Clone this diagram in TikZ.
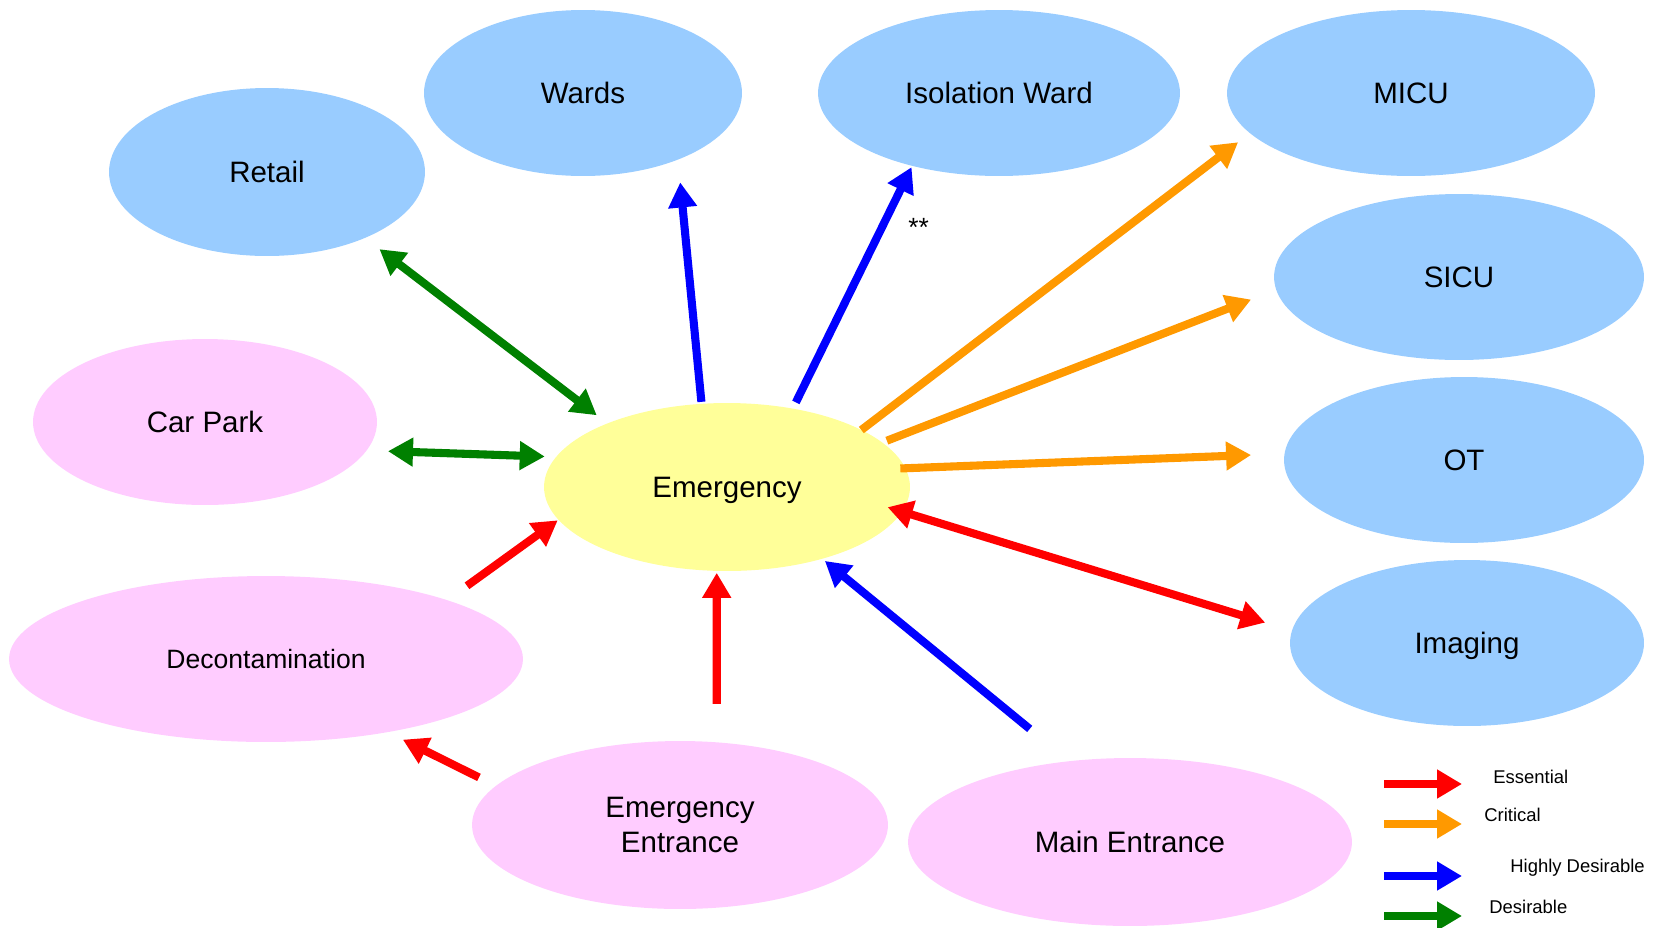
\documentclass[tikz,border=0pt]{standalone}
\usepackage{fontspec}
\setmainfont{Liberation Sans}
\usetikzlibrary{shapes.geometric,arrows.meta}

\definecolor{essential}{HTML}{FF0000}
\definecolor{critical}{HTML}{FF9900}
\definecolor{highly}{HTML}{0000FF}
\definecolor{desirable}{HTML}{008000}
\definecolor{wardblue}{HTML}{99CCFF}
\definecolor{entrypink}{HTML}{FFCCFF}
\definecolor{emyellow}{HTML}{FFFF99}

\tikzset{
    area/.style={ellipse, inner sep=0pt, outer sep=0pt, minimum height=3.32cm,
        align=center, text depth=0pt, font=\fontsize{16.8}{20}\selectfont},
    hosp/.style={area, fill=wardblue},
    entry/.style={area, fill=entrypink},
    link/.style={line width=4.6pt, >={Triangle[length=0.5cm,width=0.55cm]}, ->},
    both/.style={link, <->},
    keytext/.style={font=\fontsize{10.5}{12}\selectfont, inner sep=0pt, anchor=west}
}

\begin{document}
\begin{tikzpicture}[x=0.02cm, y=-0.02cm]  % one unit = one pixel of the layout
    \useasboundingbox (0,0) rectangle (1656,927);

    % Departments
    \node[hosp, minimum width=6.32cm, minimum height=3.36cm] (retail) at (267,172) {Retail};
    \node[hosp, minimum width=6.36cm] (wards) at (583,93) {Wards};
    \node[hosp, minimum width=7.24cm] (iso) at (999,93) {Isolation Ward};
    \node[hosp, minimum width=7.36cm] (micu) at (1411,93) {MICU};
    \node[hosp, minimum width=7.40cm] (sicu) at (1459,277) {SICU};
    \node[hosp, minimum width=7.20cm] (ot) at (1464,460) {OT};
    \node[hosp, minimum width=7.08cm] (imaging) at (1467,643) {Imaging};

    % Entrances and outside
    \node[entry, minimum width=6.88cm] (carpark) at (205,422) {Car Park};
    \node[entry, minimum width=10.28cm, font=\fontsize{15.1}{18}\selectfont] (decon) at (266,659) {Decontamination};
    \node[entry, minimum width=8.32cm, minimum height=3.36cm] (ementr) at (680,825) {Emergency\\Entrance};
    \node[entry, minimum width=8.88cm, minimum height=3.36cm] (mainentr) at (1130,842) {Main Entrance};

    % Centre
    \node[area, fill=emyellow, minimum width=7.32cm, minimum height=3.36cm] (em) at (727,487) {Emergency};

    % Adjacencies
    \draw[both, desirable, shorten <=0.27cm, shorten >=0.37cm] (em.152) -- (retail.-34);
    \draw[both, desirable, shorten <=0.43cm, shorten >=0.23cm] (carpark.-10) -- (em.170);
    \draw[link, highly, shorten <=0.04cm, shorten >=0.46cm] (em.107) -- (wards.-35);
    \draw[link, highly, shorten <=0.14cm, shorten >=0.03cm] (em.50) -- (iso.220)
        node[pos=0.745, right=0.45cm, inner sep=0pt, text=black, font=\fontsize{15}{16}\selectfont] (star) {**};
    \draw[link, critical, shorten <=0cm, shorten >=0.30cm] (em.23) -- (micu.194);
    \draw[link, critical, shorten <=0.10cm, shorten >=0.54cm] (em.16) -- (sicu.184);
    \draw[link, critical, shorten <=-0.10cm, shorten >=0.67cm] (em.6) -- (ot.178);
    \draw[both, essential, shorten <=-0.30cm, shorten >=0.56cm] (em.-8) -- (imaging.176);
    \draw[link, highly, shorten <=1.02cm, shorten >=0.07cm] (mainentr.127) -- (em.-37);
    \draw[link, essential, shorten <=0.77cm, shorten >=0.04cm] (ementr.66) -- (em.-97);
    \draw[link, essential, shorten <=0.49cm, shorten >=0.02cm] (decon.18) -- (em.191);
    \draw[link, essential, shorten <=0.38cm, shorten >=0.34cm] (ementr.168) -- (decon.-31);

    % Key
    \foreach \y/\col/\txt/\tx/\ty [count=\i] in {784/essential/Essential/1493/777,
            824/critical/Critical/1484/815, 876/highly/Highly Desirable/1510/868,
            916/desirable/Desirable/1489/907} {
        \coordinate (ks\i) at (1384,\y);
        \coordinate (ke\i) at (1462,\y);
        \draw[link, \col] (ks\i) -- (ke\i);
        \node[keytext] (kt\i) at (\tx,\ty) {\txt};
    }
\end{tikzpicture}
\end{document}
